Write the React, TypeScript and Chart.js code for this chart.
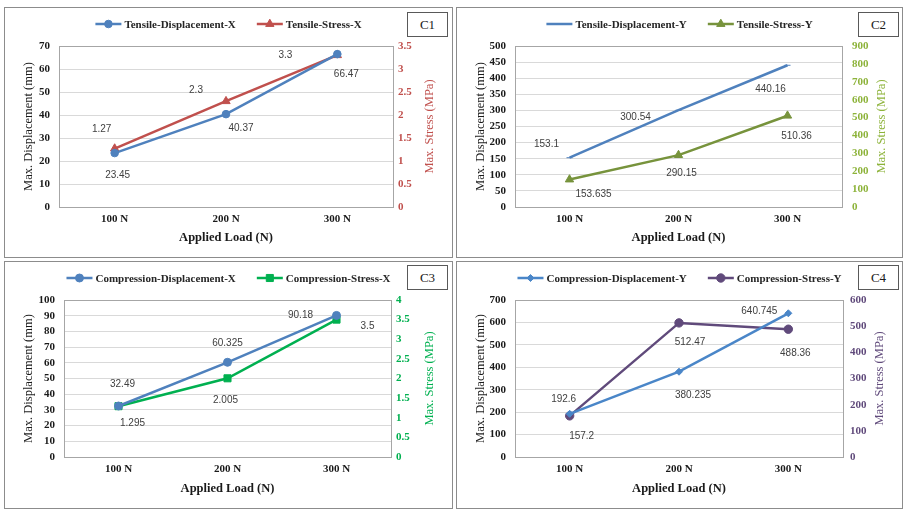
import { useEffect, useRef } from "react"
import { Chart, registerables } from "chart.js"
import { drawPoint } from "chart.js/helpers"

Chart.register(...registerables)

const loadLabels = ["100 N", "200 N", "300 N"]

const tensileDispX = [23.45, 40.37, 66.47]
const tensileStressX = [1.27, 2.3, 3.3]
const tensileDispY = [153.1, 300.54, 440.16]
const tensileStressY = [153.635, 290.15, 510.36]
const compDispX = [32.49, 60.325, 90.18]
const compStressX = [1.295, 2.005, 3.5]
const compDispY = [192.6, 380.235, 640.745]
const compStressY = [157.2, 512.47, 488.36]

// [max, step]
const c1LeftAxis = [70, 10]
const c1RightAxis = [3.5, 0.5]
const c2LeftAxis = [500, 50]
const c2RightAxis = [900, 100]
const c3LeftAxis = [100, 10]
const c3RightAxis = [4, 0.5]
const c4LeftAxis = [700, 100]
const c4RightAxis = [600, 100]

const SERIF = "'Liberation Serif', 'Times New Roman', serif"
const SANS = "'Liberation Sans', Arial, sans-serif"

interface Series {
  label: string
  data: number[]
  color: string
  pointStyle: string
  radius: number
  axis: "y" | "y1"
  offsets: number[][]
}

interface PanelCfg {
  tag: string
  x: number
  y: number
  w: number
  h: number
  area: { l: number; r: number; t: number; b: number }
  left: number[]
  right: number[]
  rightColor: string
  rightPad: number
  rightTitleX: number
  series: Series[]
}

// value labels were placed by hand in the source, so offsets are per point
const panels: PanelCfg[] = [
  {
    tag: "C1", x: 4, y: 7, w: 447, h: 249,
    area: { l: 54, r: 388, t: 38, b: 199 },
    left: c1LeftAxis, right: c1RightAxis, rightColor: "#c0504d", rightPad: 5, rightTitleX: 425,
    series: [
      { label: "Tensile-Displacement-X", data: tensileDispX, color: "#4f81bd", pointStyle: "circle", radius: 3.8, axis: "y",
        offsets: [[3, 22], [15, 14], [9, 20]] },
      { label: "Tensile-Stress-X", data: tensileStressX, color: "#c0504d", pointStyle: "triangle", radius: 4.8, axis: "y1",
        offsets: [[-13, -19], [-30, -11], [-52, 0]] },
    ],
  },
  {
    tag: "C2", x: 456, y: 7, w: 445, h: 249,
    area: { l: 58, r: 385, t: 38, b: 199 },
    left: c2LeftAxis, right: c2RightAxis, rightColor: "#8db33a", rightPad: 10, rightTitleX: 425,
    series: [
      { label: "Tensile-Displacement-Y", data: tensileDispY, color: "#4f81bd", pointStyle: "line", radius: 3, axis: "y",
        offsets: [[-23, -13], [-43, 7], [-17, 24]] },
      { label: "Tensile-Stress-Y", data: tensileStressY, color: "#77933c", pointStyle: "triangle", radius: 4.8, axis: "y1",
        offsets: [[24, 15], [3, 18], [9, 21]] },
    ],
  },
  {
    tag: "C3", x: 4, y: 261, w: 447, h: 246,
    area: { l: 59, r: 386, t: 38, b: 195 },
    left: c3LeftAxis, right: c3RightAxis, rightColor: "#00b050", rightPad: 5, rightTitleX: 425,
    series: [
      { label: "Compression-Displacement-X", data: compDispX, color: "#4f81bd", pointStyle: "circle", radius: 4, axis: "y",
        offsets: [[4, -22], [0, -19], [-36, 0]] },
      { label: "Compression-Stress-X", data: compStressX, color: "#00b050", pointStyle: "rect", radius: 5, axis: "y1",
        offsets: [[14, 17], [-2, 22], [31, 7]] },
    ],
  },
  {
    tag: "C4", x: 456, y: 261, w: 445, h: 246,
    area: { l: 58, r: 386, t: 38, b: 195 },
    left: c4LeftAxis, right: c4RightAxis, rightColor: "#604a7b", rightPad: 7, rightTitleX: 423,
    series: [
      { label: "Compression-Displacement-Y", data: compDispY, color: "#4a86c8", pointStyle: "rectRot", radius: 3.5, axis: "y",
        offsets: [[-6, -15], [14, 24], [-29, -2]] },
      { label: "Compression-Stress-Y", data: compStressY, color: "#604a7b", pointStyle: "circle", radius: 4.2, axis: "y1",
        offsets: [[12, 20], [11, 19], [7, 24]] },
    ],
  },
]

const framePlugin = {
  id: "plotFrame",
  beforeDatasetsDraw(chart: any) {
    const { ctx, chartArea: a } = chart
    ctx.save()
    ctx.strokeStyle = "#a6a6a6"
    ctx.lineWidth = 1
    ctx.strokeRect(a.left + 0.5, a.top + 0.5, a.right - a.left, a.bottom - a.top)
    ctx.restore()
  },
}

const legendPlugin = {
  id: "panelLegend",
  afterDraw(chart: any) {
    const ctx = chart.ctx
    ctx.save()
    ctx.font = `bold 11px ${SERIF}`
    const sets = chart.data.datasets
    const widths = sets.map((ds: any) => ctx.measureText(ds.label).width)
    const swatch = 26
    const gapText = 3
    const gapItem = 21
    const total = widths.reduce((s: number, w: number) => s + swatch + gapText + w, 0) + gapItem * (sets.length - 1)
    let x = chart.width / 2 - total / 2
    const y = 16
    sets.forEach((ds: any, i: number) => {
      ctx.strokeStyle = ds.borderColor
      ctx.fillStyle = ds.borderColor
      ctx.lineWidth = 2.5
      ctx.beginPath()
      ctx.moveTo(x, y)
      ctx.lineTo(x + swatch, y)
      ctx.stroke()
      ctx.lineWidth = 1
      drawPoint(ctx, { pointStyle: ds.pointStyle, radius: ds.pointRadius, rotation: 0, borderWidth: 1 }, x + swatch / 2, y)
      ctx.fillStyle = "#262626"
      ctx.textAlign = "left"
      ctx.textBaseline = "middle"
      ctx.fillText(ds.label, x + swatch + gapText, y + 1)
      x += swatch + gapText + widths[i] + gapItem
    })
    ctx.restore()
  },
}

const valueLabelPlugin = {
  id: "valueLabels",
  afterDatasetsDraw(chart: any, _args: any, opts: any) {
    const ctx = chart.ctx
    ctx.save()
    ctx.font = `10px ${SANS}`
    ctx.fillStyle = "#404040"
    ctx.textAlign = "center"
    ctx.textBaseline = "middle"
    chart.data.datasets.forEach((ds: any, di: number) => {
      const meta = chart.getDatasetMeta(di)
      meta.data.forEach((pt: any, i: number) => {
        const [dx, dy] = opts.offsets[di][i]
        ctx.fillText(String(ds.data[i]), pt.x + dx, pt.y + dy)
      })
    })
    ctx.restore()
  },
}

const rightTitlePlugin = {
  id: "rightTitle",
  afterDraw(chart: any, _args: any, opts: any) {
    const { ctx, chartArea: a } = chart
    ctx.save()
    ctx.translate(opts.x, (a.top + a.bottom) / 2)
    ctx.rotate(-Math.PI / 2)
    ctx.font = `12.5px ${SERIF}`
    ctx.fillStyle = opts.color
    ctx.textAlign = "center"
    ctx.textBaseline = "middle"
    ctx.fillText(opts.text, 0, 0)
    ctx.restore()
  },
}

const plainTick = (v: any) => String(Math.round(Number(v) * 1000) / 1000)

function Panel({ cfg }: { cfg: PanelCfg }) {
  const canvasRef = useRef<HTMLCanvasElement>(null)

  useEffect(() => {
    const ctx = canvasRef.current?.getContext("2d")
    if (!ctx) return
    const { area } = cfg
    const rightGap = cfg.w - area.r
    const bottomGap = cfg.h - area.b
    const tickFont = { family: SERIF, size: 11, weight: "bold" as const }

    const chart = new Chart(ctx, {
      type: "line",
      data: {
        labels: loadLabels,
        datasets: cfg.series.map((s) => ({
          label: s.label,
          data: s.data,
          yAxisID: s.axis,
          borderColor: s.color,
          backgroundColor: s.color,
          borderWidth: 2.5,
          pointStyle: s.pointStyle as any,
          pointRadius: s.radius,
          pointBorderWidth: 1,
          pointBackgroundColor: s.color,
          pointBorderColor: s.color,
          tension: 0,
        })),
      },
      options: {
        responsive: false,
        animation: false,
        layout: { padding: { top: area.t, left: 0, right: 0, bottom: 0 } },
        plugins: {
          legend: { display: false },
          tooltip: { enabled: false },
          valueLabels: { offsets: cfg.series.map((s) => s.offsets) },
          rightTitle: { x: cfg.rightTitleX, text: "Max. Stress (MPa)", color: cfg.rightColor },
        } as any,
        scales: {
          x: {
            offset: true,
            grid: { display: false, drawTicks: false },
            border: { color: "#808080" },
            ticks: { font: tickFont, color: "#1a1a1a", padding: 6 },
            title: {
              display: true,
              text: "Applied Load (N)",
              color: "#1a1a1a",
              font: { family: SERIF, size: 12.5, weight: "bold", lineHeight: 1.2 },
              padding: { top: 0, bottom: 12 },
            },
            afterFit: (s: any) => {
              s.height = bottomGap
            },
          },
          y: {
            position: "left",
            min: 0,
            max: cfg.left[0],
            ticks: {
              stepSize: cfg.left[1],
              autoSkip: false,
              callback: plainTick,
              font: tickFont,
              color: "#1a1a1a",
              padding: 9,
            },
            grid: { color: "#d9d9d9", drawTicks: false },
            border: { color: "#808080" },
            title: {
              display: true,
              text: "Max. Displacement (mm)",
              color: "#1a1a1a",
              font: { family: SERIF, size: 12.5, lineHeight: 1.2 },
              padding: { top: 16.5, bottom: 0 },
            },
            afterFit: (s: any) => {
              s.width = area.l
            },
          },
          y1: {
            position: "right",
            min: 0,
            max: cfg.right[0],
            ticks: {
              stepSize: cfg.right[1],
              autoSkip: false,
              callback: plainTick,
              font: tickFont,
              color: cfg.rightColor,
              padding: cfg.rightPad,
            },
            grid: { display: false, drawTicks: false },
            border: { color: "#a6a6a6" },
            afterFit: (s: any) => {
              s.width = rightGap
            },
          },
        },
      },
      plugins: [framePlugin, valueLabelPlugin, legendPlugin, rightTitlePlugin],
    })

    return () => chart.destroy()
  }, [cfg])

  return (
    <div
      style={{
        position: "absolute",
        left: cfg.x,
        top: cfg.y,
        width: cfg.w,
        height: cfg.h,
        border: "1px solid #8c8c8c",
        background: "#fff",
      }}
    >
      <canvas ref={canvasRef} width={cfg.w} height={cfg.h} style={{ display: "block", width: cfg.w, height: cfg.h }} />
    </div>
  )
}

function TagBox({ text, x, y }: { text: string; x: number; y: number }) {
  return (
    <div
      style={{
        position: "absolute",
        left: x,
        top: y,
        width: 39,
        height: 23,
        border: "1px solid #595959",
        background: "#fff",
        fontFamily: SERIF,
        fontSize: 13,
        lineHeight: "23px",
        textAlign: "center",
        color: "#1a1a1a",
      }}
    >
      {text}
    </div>
  )
}

export default function App() {
  return (
    <div style={{ position: "absolute", left: 0, top: 0, width: 907, height: 511, background: "#fff", overflow: "hidden" }}>
      {panels.map((p) => (
        <Panel key={p.tag} cfg={p} />
      ))}
      <TagBox text="C1" x={407} y={12} />
      <TagBox text="C2" x={858} y={12} />
      <TagBox text="C3" x={407} y={265} />
      <TagBox text="C4" x={858} y={265} />
    </div>
  )
}
